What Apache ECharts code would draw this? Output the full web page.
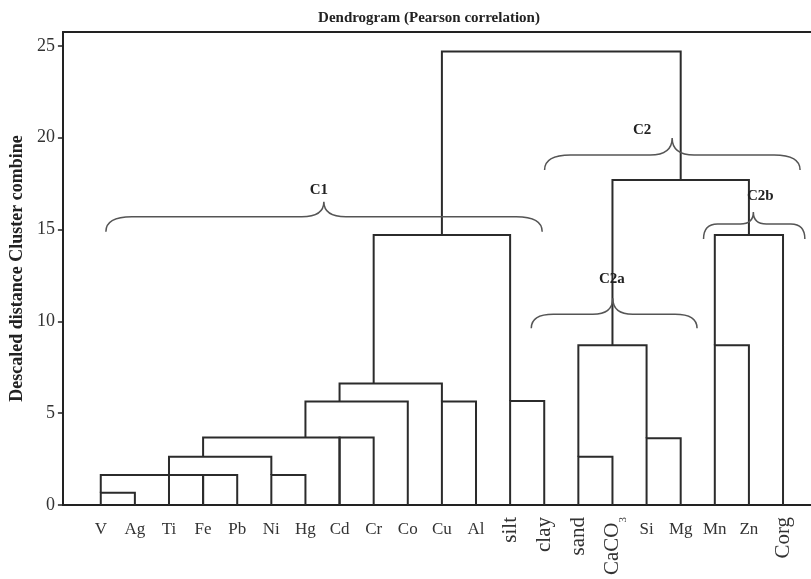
<!DOCTYPE html>
<html><head><meta charset="utf-8">
<script src="https://cdn.jsdelivr.net/npm/echarts@6/dist/echarts.min.js"></script>
<style>html,body{margin:0;padding:0;background:#fff}#c{width:811px;height:579px}</style>
</head><body><div id="c"></div>
<script>
// ---- data ----
const leaves = ['V','Ag','Ti','Fe','Pb','Ni','Hg','Cd','Cr','Co','Cu','Al','silt','clay','sand','CaCO3','Si','Mg','Mn','Zn','Corg'];
const rotatedLeaves = ['silt','clay','sand','CaCO3','Corg'];
const yTicks = [0, 5, 10, 15, 20, 25];
// each merge: [left leaf index, right leaf index, join distance, left branch start, right branch start]
const merges = [
  [0, 1, 0.67, 0, 0],
  [0, 3, 1.63, 0.67, 0],
  [3, 4, 1.63, 0, 0],
  [5, 6, 1.63, 0, 0],
  [2, 5, 2.63, 0, 1.63],
  [3, 7, 3.67, 2.63, 0],
  [7, 8, 3.67, 0, 0],
  [6, 9, 5.63, 3.67, 0],
  [10, 11, 5.63, 0, 0],
  [7, 10, 6.62, 5.63, 5.63],
  [12, 13, 5.66, 0, 0],
  [8, 12, 14.7, 6.62, 5.66],
  [14, 15, 2.63, 0, 0],
  [16, 17, 3.63, 0, 0],
  [14, 16, 8.7, 2.63, 3.63],
  [18, 19, 8.7, 0, 0],
  [18, 20, 14.7, 8.7, 0],
  [15, 19, 17.7, 8.7, 14.7],
  [10, 17, 24.7, 14.7, 17.7]
];
// cluster braces: name, span (leaf index units), cusp position, distance level of the brace ends
const braceNames = ['C1', 'C2', 'C2a', 'C2b'];
const braceFrom  = [0.15, 13.01, 12.62, 17.67];
const braceTo    = [12.94, 20.5, 17.48, 20.64];
const braceTip   = [6.54, 16.75, 15.01, 19.13];
const braceLevel = [14.88, 18.24, 9.62, 14.48];

// ---- chart ----
const FONT = '"Liberation Serif", "Times New Roman", serif';
const LINE = '#2b2b2b';
const xMin = -1.11, xMax = 20.82;
const chart = echarts.init(document.getElementById('c'), null, {renderer: 'canvas'});

// style-only tuning for braces (pixel sizes and label offsets)
const braceStyle = [
  {arm: 15, cusp: 15, rEnd: 26, rTip: 22, ldx: -5, ldy: -12},
  {arm: 15, cusp: 17, rEnd: 26, rTip: 22, ldx: -30, ldy: -8},
  {arm: 14, cusp: 16, rEnd: 22, rTip: 20, ldx: -1, ldy: -19},
  {arm: 15, cusp: 12, rEnd: 14, rTip: 13, ldx: 7, ldy: -16}
];

const option = {
  animation: false,
  backgroundColor: '#fff',
  title: {
    text: 'Dendrogram (Pearson correlation)',
    left: 424, top: 6, textAlign: 'center',
    textStyle: {fontFamily: FONT, fontWeight: 'bold', fontSize: 15, color: '#222'}
  },
  grid: {left: 61, right: 0, top: 32, bottom: 74},
  xAxis: [
    {type: 'value', min: xMin, max: xMax, position: 'bottom',
     axisLine: {show: true, onZero: false, lineStyle: {color: '#222', width: 2}},
     axisTick: {show: false}, axisLabel: {show: false}, splitLine: {show: false}},
    {type: 'value', min: xMin, max: xMax, position: 'top',
     axisLine: {show: true, onZero: false, lineStyle: {color: '#222', width: 2}},
     axisTick: {show: false}, axisLabel: {show: false}, splitLine: {show: false}}
  ],
  yAxis: {
    type: 'value', min: 0, max: 25.76, interval: 5,
    name: 'Descaled distance Cluster combine', nameLocation: 'middle', nameGap: 35,
    nameTextStyle: {fontFamily: FONT, fontWeight: 'bold', fontSize: 18, color: '#222'},
    axisLine: {show: true, onZero: false, lineStyle: {color: '#222', width: 2}},
    axisTick: {show: true, length: 5, lineStyle: {color: '#222', width: 1.5},
               customValues: yTicks},
    axisLabel: {fontFamily: FONT, fontSize: 18, color: '#333', margin: 8, customValues: yTicks},
    splitLine: {show: false}
  },
  series: [
    {
      type: 'custom', clip: false, xAxisIndex: 0,
      data: merges,
      encode: {x: [0, 1], y: [2]},
      renderItem: function (params, api) {
        const a = api.value(0), b = api.value(1), h = api.value(2), ha = api.value(3), hb = api.value(4);
        return {
          type: 'polyline',
          shape: {points: [api.coord([a, ha]), api.coord([a, h]), api.coord([b, h]), api.coord([b, hb])]},
          style: {stroke: LINE, lineWidth: 2, fill: null, lineJoin: 'miter'}
        };
      }
    },
    {
      type: 'custom', clip: false, xAxisIndex: 0,
      data: leaves.map((n, i) => [i, 0]),
      encode: {x: 0, y: 1},
      renderItem: function (params, api) {
        const i = api.value(0);
        const name = leaves[i];
        const p = api.coord([i, 0]);
        const rot = rotatedLeaves.indexOf(name) >= 0;
        if (rot) {
          const isCa = name === 'CaCO3';
          return {
            type: 'text', x: p[0], y: p[1] + 12, rotation: Math.PI / 2,
            style: {
              text: isCa ? '{a|CaCO}{s|3}' : name,
              align: 'right', verticalAlign: 'middle',
              font: '21px ' + FONT, fill: '#333',
              rich: isCa ? {
                a: {fontFamily: FONT, fontSize: 21, color: '#333', lineHeight: 24},
                s: {fontFamily: FONT, fontSize: 11, color: '#333', lineHeight: 11, verticalAlign: 'bottom', padding: [0, 0, -4, 0]}
              } : undefined
            }
          };
        }
        return {
          type: 'text', x: p[0], y: p[1] + 25,
          style: {text: name, align: 'center', verticalAlign: 'middle', font: '17px ' + FONT, fill: '#333'}
        };
      }
    },
    {
      type: 'custom', clip: false, xAxisIndex: 0,
      data: braceNames.map((n, i) => [braceFrom[i], braceTo[i], braceTip[i], braceLevel[i], i]),
      encode: {x: [0, 1], y: 3},
      renderItem: function (params, api) {
        const k = api.value(4);
        const s = braceStyle[k];
        const L = api.coord([api.value(0), api.value(3)]);
        const R = api.coord([api.value(1), api.value(3)]);
        const T = api.coord([api.value(2), api.value(3)]);
        const yb = L[1], yh = yb - s.arm, yt = yh - s.cusp;
        const x0 = L[0], x1 = R[0], xc = T[0];
        const st = {stroke: '#555', lineWidth: 1.5, fill: null};
        const path = 'M' + x0 + ' ' + yb +
          ' Q' + x0 + ' ' + yh + ' ' + (x0 + s.rEnd) + ' ' + yh +
          ' L' + (xc - s.rTip) + ' ' + yh +
          ' Q' + xc + ' ' + yh + ' ' + xc + ' ' + yt +
          ' M' + xc + ' ' + yt +
          ' Q' + xc + ' ' + yh + ' ' + (xc + s.rTip) + ' ' + yh +
          ' L' + (x1 - s.rEnd) + ' ' + yh +
          ' Q' + x1 + ' ' + yh + ' ' + x1 + ' ' + yb;
        return {
          type: 'group',
          children: [
            {type: 'path', shape: {pathData: path}, style: st},
            {type: 'text', x: xc + s.ldx, y: yt + s.ldy,
             style: {text: braceNames[k], align: 'center', verticalAlign: 'middle',
                     font: 'bold 15px ' + FONT, fill: '#222'}}
          ]
        };
      }
    }
  ]
};
chart.setOption(option);
</script>
</body></html>
